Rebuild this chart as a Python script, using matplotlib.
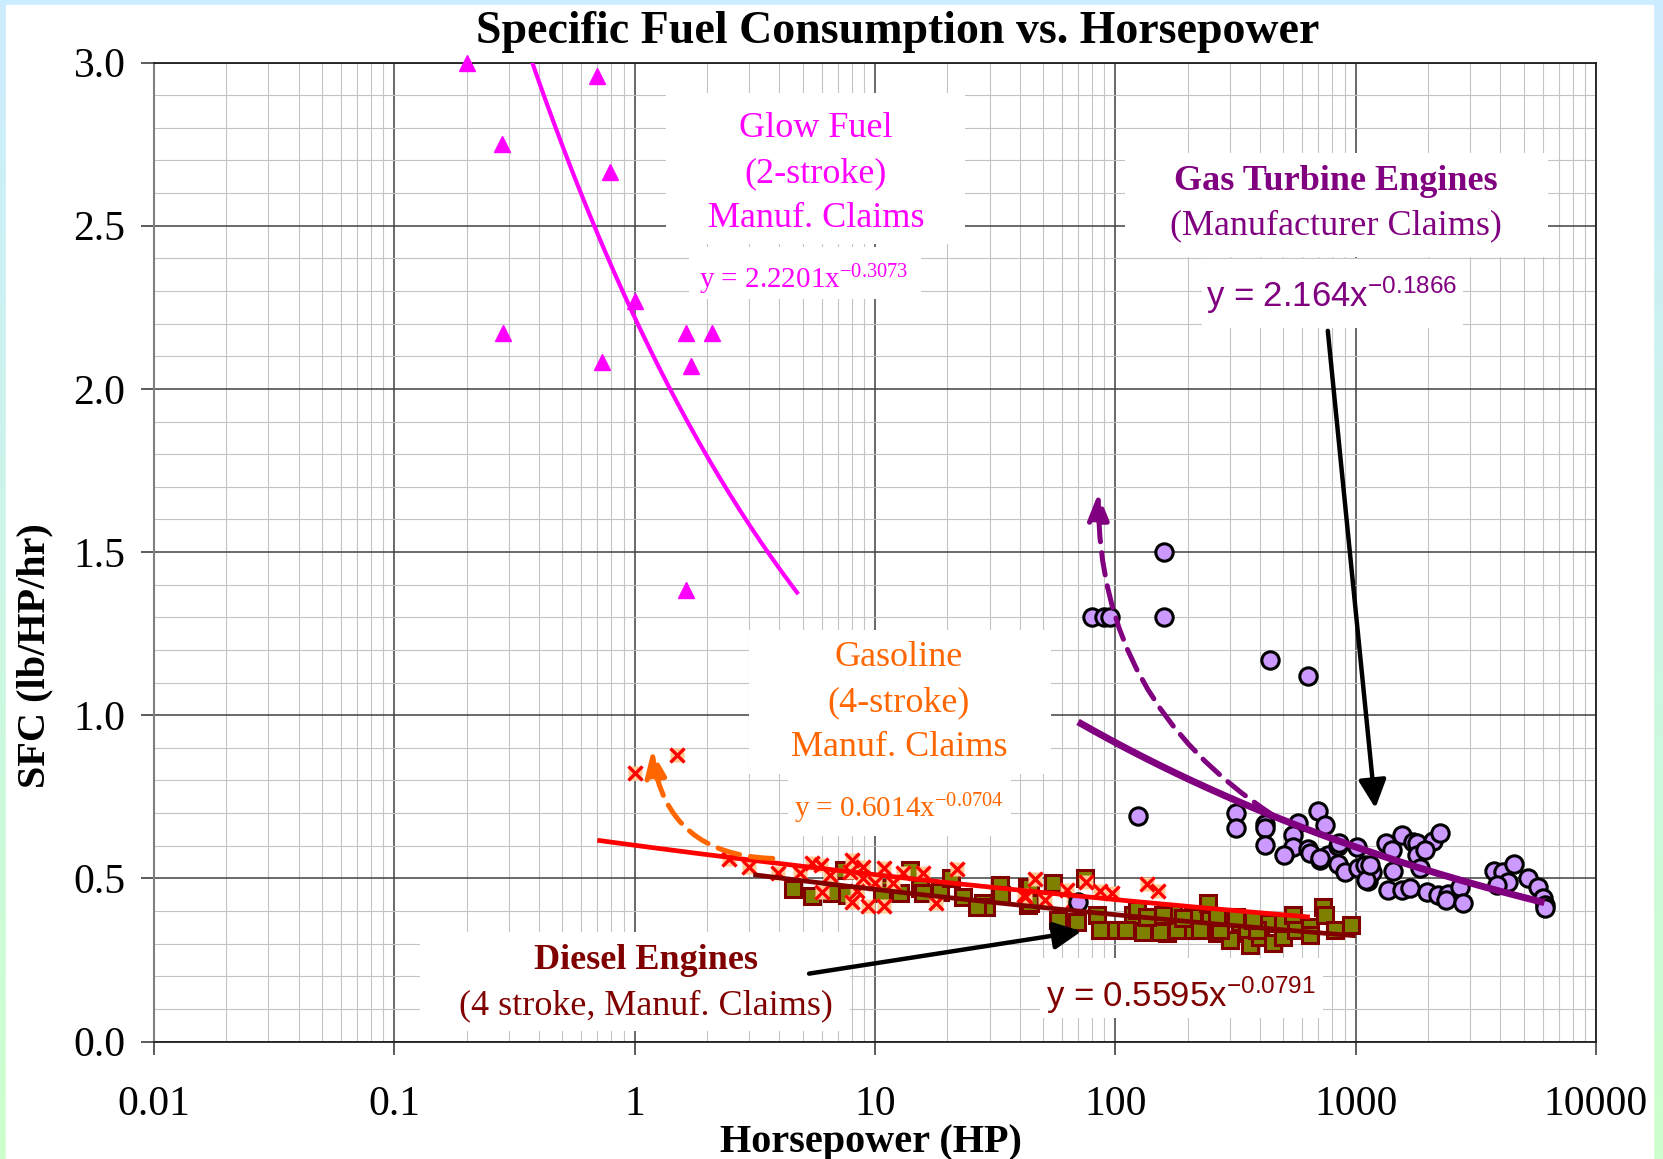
import matplotlib
matplotlib.use("Agg")
import matplotlib.pyplot as plt
import numpy as np
from matplotlib.patches import Rectangle, FancyArrowPatch
from matplotlib.ticker import LogLocator, MultipleLocator, NullFormatter

plt.rcParams["font.family"] = ["Liberation Serif", "DejaVu Serif"]
plt.rcParams["mathtext.default"] = "regular"

W, H = 1663, 1159

# ---- data ----
glow_hp = [0.2, 0.28, 0.285, 0.70, 0.79, 0.73, 1.0, 1.64, 1.72, 2.11, 1.63]
glow_sfc = [3.0, 2.75, 2.17, 2.96, 2.665, 2.083, 2.27, 2.17, 2.07, 2.17, 1.384]

gas_hp = [1.0, 1.5, 2.48, 3.0, 3.96, 4.88, 5.46, 5.94, 6.5, 6.0, 8.0, 7.87, 8.94, 8.94,
          8.0, 9.4, 10.9, 10.9, 10.0, 11.9, 13.1, 15.9, 17.9, 22.0, 41.8, 8.4, 46.4,
          42.1, 51, 63.1, 66.8, 75.2, 86.2, 96.5, 135, 151]
gas_sfc = [0.822, 0.878, 0.558, 0.536, 0.517, 0.517, 0.546, 0.541, 0.51, 0.459, 0.556,
           0.52, 0.536, 0.50, 0.428, 0.415, 0.415, 0.531, 0.485, 0.485, 0.515, 0.517,
           0.424, 0.528, 0.449, 0.462, 0.497, 0.444, 0.434, 0.464, 0.432, 0.49, 0.462,
           0.454, 0.483, 0.462]

diesel_hp = [4.55, 5.46, 6.61, 7.63, 7.43, 11.5, 12.7, 14.0, 15.4, 18.6, 20.8, 23.3, 28.2,
             29.1, 33.1, 33.6, 42.8, 43.4, 44.2, 44.2, 55.2, 57.8, 69, 74.8, 83.6, 101,
             86.3, 118.6, 122.6, 130.6, 143.8, 163.5, 174, 204, 211, 243, 247, 264, 290,
             300, 330, 352, 363, 399, 432, 454, 499, 499, 549, 567, 645, 645, 733, 745,
             819, 961, 111, 153, 180, 225, 272, 387, 135, 158, 191, 264, 319, 375, 10.7,
             15.9, 26.5]
diesel_sfc = [0.466, 0.446, 0.454, 0.449, 0.526, 0.47, 0.454, 0.526, 0.47, 0.459, 0.50,
              0.444, 0.424, 0.413, 0.48, 0.449, 0.474, 0.418, 0.474, 0.424, 0.485, 0.372,
              0.367, 0.50, 0.388, 0.342, 0.342, 0.388, 0.403, 0.336, 0.383, 0.332, 0.393,
              0.342, 0.383, 0.424, 0.372, 0.332, 0.383, 0.311, 0.367, 0.332, 0.296, 0.321,
              0.362, 0.301, 0.321, 0.362, 0.388, 0.342, 0.352, 0.327, 0.413, 0.388, 0.342,
              0.357, 0.342, 0.336, 0.342, 0.342, 0.342, 0.342, 0.383, 0.388, 0.378, 0.383,
              0.383, 0.372, 0.454, 0.454, 0.413]

turb_hp = [159, 80, 90, 95, 159, 440, 634, 124, 318, 318, 419, 419, 419, 577, 550, 550,
           503, 634, 644, 698, 745, 710, 769, 846, 846, 902, 1009, 1025, 1092, 1128, 1165,
           1344, 1411, 1553, 1735, 1432, 1366, 1566, 1680, 1792, 2102, 2240, 1792, 1941,
           1848, 1972, 2204, 2426, 2388, 2711, 2799, 3758, 4112, 4564, 4310, 3856, 5226,
           5745, 6026, 6124, 6150, 70, 708, 849, 1109, 1150]
turb_sfc = [1.50, 1.30, 1.30, 1.30, 1.30, 1.17, 1.12, 0.69, 0.70, 0.653, 0.666, 0.655,
            0.602, 0.669, 0.633, 0.595, 0.572, 0.589, 0.577, 0.707, 0.664, 0.556, 0.572,
            0.544, 0.599, 0.520, 0.595, 0.531, 0.541, 0.493, 0.520, 0.607, 0.587, 0.633,
            0.612, 0.523, 0.464, 0.464, 0.469, 0.609, 0.615, 0.638, 0.572, 0.587, 0.531,
            0.459, 0.449, 0.452, 0.434, 0.473, 0.424, 0.523, 0.520, 0.544, 0.490, 0.480,
            0.500, 0.473, 0.439, 0.418, 0.41, 0.428, 0.561, 0.607, 0.495, 0.541]

# power-law trendlines y = a * x^b, with the x span drawn in the chart
fit_names = ["glow", "gas", "diesel", "turbine"]
fit_a = [2.2201, 0.6014, 0.5595, 2.164]
fit_b = [-0.3073, -0.0704, -0.0791, -0.1866]
fit_lo = [0.3, 0.70, 3.12, 70]
fit_hi = [4.8, 645, 1000, 6100]

x_ticks = [0.01, 0.1, 1, 10, 100, 1000, 10000]
x_tick_labels = ["0.01", "0.1", "1", "10", "100", "1000", "10000"]
y_ticks = [0.0, 0.5, 1.0, 1.5, 2.0, 2.5, 3.0]
y_tick_labels = ["0.0", "0.5", "1.0", "1.5", "2.0", "2.5", "3.0"]

MAGENTA = "#FF00FF"
PURPLE = "#800080"
ORANGE = "#FF6600"
MAROON = "#800000"


def fx(px):
    return px / W


def fy(py):
    return 1 - py / H


fig = plt.figure(figsize=(W / 100, H / 100), dpi=100)

# gradient frame and white panel
bg = fig.add_axes([0, 0, 1, 1], zorder=-10)
t = np.linspace(0, 1, 256)[:, None, None]
top = np.array([0xCC, 0xEC, 0xFF]) / 255
bot = np.array([0xCC, 0xFF, 0xCC]) / 255
bg.imshow(top * (1 - t) + bot * t, aspect="auto", extent=[0, 1, 0, 1])
bg.add_patch(Rectangle((fx(6), 0), fx(1653) - fx(6), fy(5), color="white"))
bg.set_xlim(0, 1)
bg.set_ylim(0, 1)
bg.axis("off")

ax = fig.add_axes([0.09248, 0.10138, 0.86723, 0.84461])
ax.set_facecolor("white")
ax.set_xscale("log")
ax.set_xlim(0.01, 10000)
ax.set_ylim(0, 3)

ax.set_xticks(x_ticks)
ax.set_xticklabels(x_tick_labels)
ax.xaxis.set_minor_locator(LogLocator(base=10, subs=np.arange(2, 10), numticks=100))
ax.xaxis.set_minor_formatter(NullFormatter())
ax.set_yticks(y_ticks)
ax.set_yticklabels(y_tick_labels)
ax.yaxis.set_minor_locator(MultipleLocator(0.1))

ax.tick_params(which="major", direction="out", length=9.4, width=1.2,
               labelsize=30, color="#404040")
ax.tick_params(axis="x", which="major", pad=22)
ax.tick_params(axis="y", which="major", pad=11)
ax.tick_params(which="minor", length=0)
ax.set_axisbelow(True)
ax.grid(which="minor", color="#C4C4C4", linewidth=0.8)
ax.grid(which="major", color="#404040", linewidth=1.1)
for side in ["top", "right", "bottom"]:
    ax.spines[side].set_color("#202020")
    ax.spines[side].set_linewidth(1.3)
ax.spines["left"].set_color("#808080")
ax.spines["left"].set_linewidth(1.5)

# white text boxes (figure pixels: x0, y0, x1, y1)
boxes = [(666, 93, 965, 244), (689, 247, 921, 299), (1125, 153, 1548, 257),
         (1202, 259, 1463, 328), (749, 630, 1051, 774), (788, 774, 1011, 836),
         (420, 932, 850, 1031), (1040, 958, 1323, 1018)]
for x0, y0, x1, y1 in boxes:
    ax.add_patch(Rectangle((fx(x0), fy(y1)), fx(x1) - fx(x0), fy(y0) - fy(y1),
                           transform=fig.transFigure, facecolor="white",
                           edgecolor="none", zorder=1, clip_on=False))

# data points
ax.plot(diesel_hp, diesel_sfc, "s", ms=11.5, mfc="#808000", mec=MAROON, mew=2.2, zorder=3)
ax.plot(gas_hp, gas_sfc, "s", ms=10, mfc="#FFCC99", mec="none", zorder=4)
ax.plot(gas_hp, gas_sfc, "x", ms=10, mec="#FF0000", mew=2.4, zorder=4.1)
ax.plot(turb_hp, turb_sfc, "o", ms=12.5, mfc="#CC99FF", mec="black", mew=2.2, zorder=5)
ax.plot(glow_hp, glow_sfc, "^", ms=11, color=MAGENTA, zorder=6, clip_on=False)

# trendlines
fit_style = {"glow": (MAGENTA, 3.0), "gas": ("#FF0000", 3.4),
             "diesel": (MAROON, 3.4), "turbine": (PURPLE, 5.0)}
for name, a, b, lo, hi in zip(fit_names, fit_a, fit_b, fit_lo, fit_hi):
    xs = np.geomspace(lo, hi, 200)
    c, lw = fit_style[name]
    ax.plot(xs, a * xs ** b, color=c, linewidth=lw, zorder=7, solid_capstyle="butt")

# arrows
head = "-|>,head_length=0.45,head_width=0.22"
for tail, tip in [((766, 2.178), (1208, 0.715)), ((5.32, 0.208), (72.4, 0.338))]:
    ax.add_patch(FancyArrowPatch(tail, tip, arrowstyle=head, mutation_scale=38,
                                 color="black", lw=3.2, zorder=8, shrinkA=0, shrinkB=0))

dash_head = "-|>,head_length=0.5,head_width=0.2"
ax.add_patch(FancyArrowPatch((3.76, 0.561), (1.18, 0.893), arrowstyle=dash_head,
                             connectionstyle="arc3,rad=-0.42", mutation_scale=32,
                             color=ORANGE, lw=3.6, linestyle=(0, (4.5, 2.2)),
                             zorder=8, shrinkA=0, shrinkB=0))
ax.add_patch(FancyArrowPatch((452, 0.694), (85, 1.68), arrowstyle=dash_head,
                             connectionstyle="arc3,rad=-0.27", mutation_scale=32,
                             color=PURPLE, lw=3.6, linestyle=(0, (4.5, 2.2)),
                             zorder=8, shrinkA=0, shrinkB=0))

# titles
fig.text(fx(898), fy(43), "Specific Fuel Consumption vs. Horsepower", ha="center",
         va="baseline", fontsize=33, fontweight="bold")
fig.text(fx(871), fy(1152), "Horsepower (HP)", ha="center", va="baseline",
         fontsize=29, fontweight="bold")
fig.text(fx(35), fy(656), "SFC (lb/HP/hr)", ha="center", va="center", rotation=90,
         fontsize=29, fontweight="bold")


# annotations
def label(x, y, s, color, size=26, weight="normal", family=None):
    kw = {}
    if family:
        kw["family"] = family
    fig.text(fx(x), fy(y), s, ha="center", va="baseline", color=color,
             fontsize=size, fontweight=weight, **kw)


label(816, 137, "Glow Fuel", MAGENTA)
label(816, 182, "(2-stroke)", MAGENTA)
label(816, 227, "Manuf. Claims", MAGENTA)
label(804, 288, "y = 2.2201x$^{-0.3073}$", MAGENTA, size=21)

label(1336, 190, "Gas Turbine Engines", PURPLE, weight="bold")
label(1336, 234, "(Manufacturer Claims)", PURPLE)
label(1332, 307, "y = 2.164x$^{-0.1866}$", PURPLE, size=25, family="Liberation Sans")

label(899, 666, "Gasoline", ORANGE)
label(899, 711, "(4-stroke)", ORANGE)
label(899, 756, "Manuf. Claims", ORANGE)
label(899, 817, "y = 0.6014x$^{-0.0704}$", ORANGE, size=21)

label(646, 969, "Diesel Engines", MAROON, weight="bold")
label(646, 1014, "(4 stroke, Manuf. Claims)", MAROON)
label(1181, 1007, "y = 0.5595x$^{-0.0791}$", MAROON, size=25, family="Liberation Sans")

fig.savefig("out.png", dpi=100)
